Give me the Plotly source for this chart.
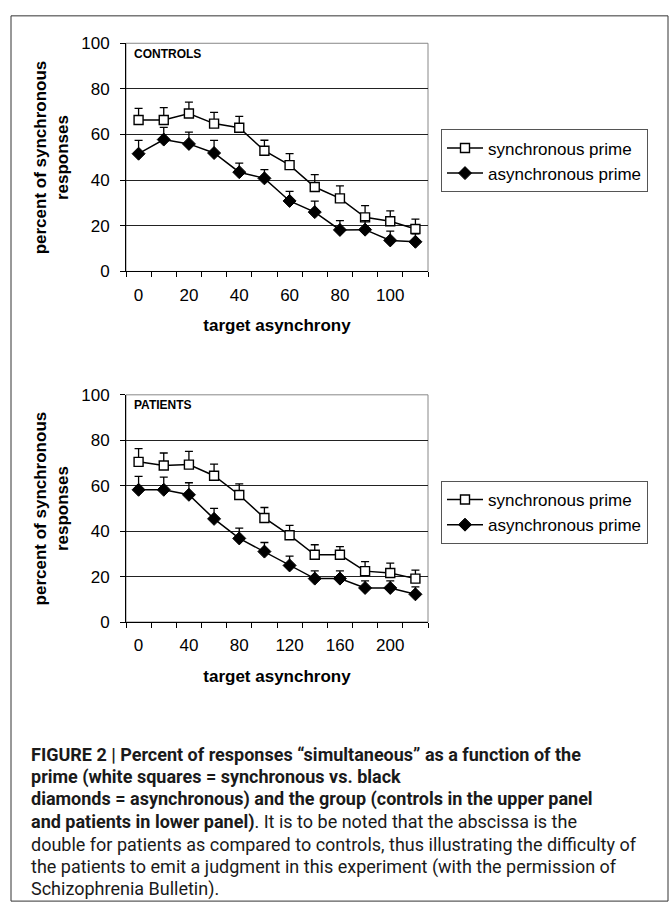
import plotly.graph_objects as go

# ---------------- data ----------------
controls_x = ["0", "10", "20", "30", "40", "50", "60", "70", "80", "90", "100", "110"]
controls_tick_text = ["0", "", "20", "", "40", "", "60", "", "80", "", "100", ""]
controls_sync = [66.4, 66.4, 69.2, 64.8, 63.0, 52.9, 46.6, 37.0, 32.0, 23.7, 22.0, 18.6]
controls_sync_err = [5.1, 5.4, 5.0, 4.9, 5.0, 4.6, 5.0, 5.4, 5.5, 5.1, 4.5, 4.3]
controls_async = [51.6, 57.8, 55.9, 51.9, 43.5, 40.8, 30.9, 26.0, 18.2, 18.3, 13.6, 13.0]
controls_async_err = [5.8, 5.3, 5.2, 5.5, 4.0, 3.8, 4.2, 4.8, 4.1, 4.0, 4.1, 3.5]

patients_x = ["0", "20", "40", "60", "80", "100", "120", "140", "160", "180", "200", "220"]
patients_tick_text = ["0", "", "40", "", "80", "", "120", "", "160", "", "200", ""]
patients_sync = [70.5, 68.9, 69.3, 64.4, 55.9, 45.8, 38.2, 29.6, 29.6, 22.4, 21.6, 19.1]
patients_sync_err = [5.8, 5.5, 5.8, 5.1, 4.9, 4.6, 4.3, 4.4, 3.6, 4.2, 4.3, 3.7]
patients_async = [58.2, 58.2, 56.0, 45.4, 36.8, 31.0, 24.9, 19.1, 19.1, 15.0, 15.0, 12.2]
patients_async_err = [5.9, 5.6, 5.3, 4.6, 4.5, 4.0, 4.1, 3.4, 3.4, 3.1, 3.1, 3.3]

y_ticks = [0, 20, 40, 60, 80, 100]
series_names = ["synchronous prime", "asynchronous prime"]
panel_labels = ["CONTROLS", "PATIENTS"]
y_title = "percent of synchronous<br>responses"
x_title = "target asynchrony"
caption_lines = [
    "<b>FIGURE 2 | Percent of responses “simultaneous” as a function of the</b>",
    "<b>prime (white squares = synchronous vs. black</b>",
    "<b>diamonds = asynchronous) and the group (controls in the upper panel</b>",
    "<b>and patients in lower panel)</b>. It is to be noted that the abscissa is the",
    "double for patients as compared to controls, thus illustrating the difficulty of",
    "the patients to emit a judgment in this experiment (with the permission of",
    "Schizophrenia Bulletin).",
]

W, H = 671, 916
FONT = "Arial"

def py(px):
    return 1 - px / H

def pxx(px):
    return px / W

fig = go.Figure()

panels = [
    (controls_x, controls_sync, controls_sync_err, controls_async, controls_async_err, "x", "y", "legend"),
    (patients_x, patients_sync, patients_sync_err, patients_async, patients_async_err, "x2", "y2", "legend2"),
]

for xs, s, se, a, ae, xa, ya, lg in panels:
    fig.add_trace(go.Scatter(
        x=xs, y=s, name=series_names[0], mode="lines+markers", xaxis=xa, yaxis=ya, legend=lg,
        line=dict(color="black", width=1.5),
        marker=dict(symbol="square", size=9, color="white", line=dict(color="black", width=1.4)),
        error_y=dict(type="data", symmetric=False, array=se, arrayminus=[0] * len(se),
                     color="black", thickness=1.3, width=4),
    ))
    fig.add_trace(go.Scatter(
        x=xs, y=a, name=series_names[1], mode="lines+markers", xaxis=xa, yaxis=ya, legend=lg,
        line=dict(color="black", width=1.5),
        marker=dict(symbol="diamond", size=10, color="black", line=dict(color="black", width=1)),
        error_y=dict(type="data", symmetric=False, array=ae, arrayminus=[0] * len(ae),
                     color="black", thickness=1.3, width=4),
    ))

x_dom = [pxx(126), pxx(428)]
top_dom = [py(268), py(35)]
bot_dom = [py(626), py(394)]

axis_common_x = dict(
    type="category", range=[-0.5, 11.5], tickson="boundaries", ticks="outside", ticklen=5,
    tickcolor="black", showline=True, linecolor="black", linewidth=1, showgrid=False,
    tickfont=dict(family=FONT, size=17, color="black"), tickmode="array", tickangle=0,
    ticklabelstandoff=8, zeroline=False,
)
axis_common_y = dict(
    range=[0, 100], tickvals=y_ticks, ticks="outside", ticklen=5, tickcolor="black",
    showline=True, linecolor="black", linewidth=1, showgrid=True, gridcolor="#222", gridwidth=1,
    tickfont=dict(family=FONT, size=17, color="black"), zeroline=False, ticklabelstandoff=7,
)
title_font = dict(family=FONT, size=17, color="black")
legend_common = dict(xanchor="left", yanchor="top", bgcolor="white", bordercolor="#555", borderwidth=1,
                     font=dict(family=FONT, size=17, color="black"), tracegroupgap=0,
                     itemsizing="trace", itemwidth=36)

fig.update_layout(
    width=W, height=H, margin=dict(l=0, r=0, t=0, b=0),
    paper_bgcolor="white", plot_bgcolor="white",
    xaxis=dict(domain=x_dom, anchor="y", tickvals=controls_x, ticktext=controls_tick_text,
               title=dict(text="<b>" + x_title + "</b>", font=title_font, standoff=15),
               **axis_common_x),
    yaxis=dict(domain=top_dom, anchor="x", **axis_common_y),
    xaxis2=dict(domain=x_dom, anchor="y2", tickvals=patients_x, ticktext=patients_tick_text,
                title=dict(text="<b>" + x_title + "</b>", font=title_font, standoff=15),
                **axis_common_x),
    yaxis2=dict(domain=bot_dom, anchor="x2", **axis_common_y),
    legend=dict(x=pxx(441), y=py(123), **legend_common),
    legend2=dict(x=pxx(441), y=py(482), **legend_common),
    showlegend=True,
)

# plot-area borders (grey top/right)
for xr, yr in [("x domain", "y domain"), ("x2 domain", "y2 domain")]:
    fig.add_shape(type="rect", xref=xr, yref=yr, x0=0, x1=1, y0=0, y1=1,
                  line=dict(color="#888", width=1), layer="below")

# outer frame
fig.add_shape(type="rect", xref="paper", yref="paper", x0=pxx(11), x1=pxx(668), y0=py(911), y1=py(7),
              line=dict(color="#333", width=1))

# panel labels
for lbl, xr, yr in [(panel_labels[0], "x domain", "y domain"), (panel_labels[1], "x2 domain", "y2 domain")]:
    fig.add_annotation(text="<b>" + lbl + "</b>", xref=xr, yref=yr, x=0.02, y=0.955,
                       xanchor="left", yanchor="middle", showarrow=False,
                       font=dict(family=FONT, size=12, color="black"))

# y titles
for ymid in [(35 + 268) / 2, (394 + 626) / 2]:
    fig.add_annotation(text="<b>" + y_title + "</b>", xref="paper", yref="paper", x=pxx(51), y=py(ymid),
                       xanchor="center", yanchor="middle", showarrow=False, textangle=-90,
                       font=title_font)

# caption, one annotation per line
for i, line in enumerate(caption_lines):
    fig.add_annotation(text=line, xref="paper", yref="paper", x=pxx(29), y=py(761 + 23 * i),
                       xanchor="left", yanchor="middle", align="left", showarrow=False,
                       font=dict(family="Roboto, sans-serif", size=18, color="#1a1a1a"))

fig.write_html("out.html", config={"displayModeBar": False},
               post_script="document.body.style.margin='0px';")
